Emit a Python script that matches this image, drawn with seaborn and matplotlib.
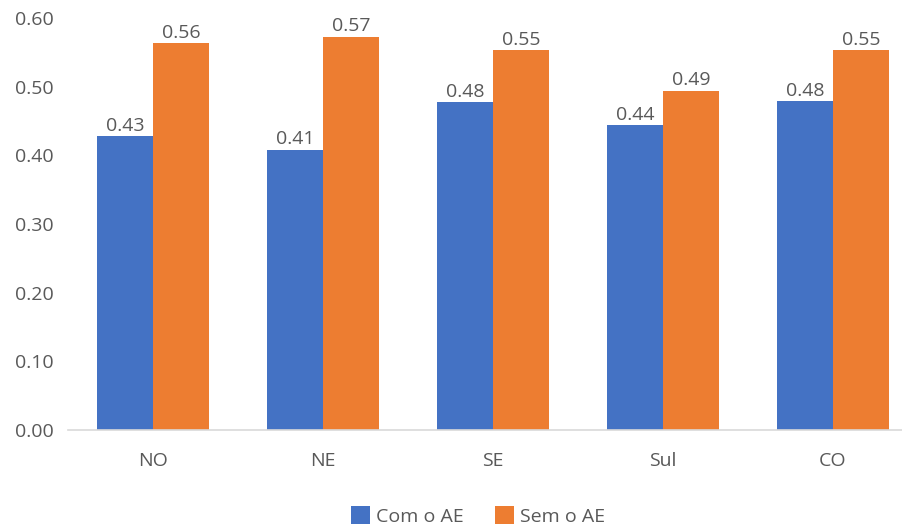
import matplotlib
matplotlib.use("Agg")
import matplotlib.pyplot as plt
import seaborn as sns
import pandas as pd

categories = ["NO", "NE", "SE", "Sul", "CO"]
com_ae = [0.428, 0.408, 0.477, 0.444, 0.479]
sem_ae = [0.563, 0.573, 0.553, 0.494, 0.553]
series_names = ["Com o AE", "Sem o AE"]
y_ticks = [0.0, 0.1, 0.2, 0.3, 0.4, 0.5, 0.6]

df = pd.DataFrame({
    "Região": categories * 2,
    "Valor": com_ae + sem_ae,
    "Série": [series_names[0]] * len(categories) + [series_names[1]] * len(categories),
})

sns.set_theme(style="white")
plt.rcParams["font.family"] = ["Open Sans", "DejaVu Sans"]
text_color = "#595959"
fs = 14

fig = plt.figure(figsize=(9.03, 5.32), dpi=100)
W, H = 903, 532
ax = fig.add_axes([68 / W, (H - 430) / H, 850 / W, 412 / H])

sns.barplot(data=df, x="Região", y="Valor", hue="Série", ax=ax,
            palette=["#4472C4", "#ED7D31"], width=0.66, gap=0,
            saturation=1, linewidth=0, errorbar=None, legend=True)

for cont in ax.containers:
    ax.bar_label(cont, fmt="%.2f", padding=1, fontsize=fs, color=text_color)

ax.set_ylim(0, 0.6)
ax.set_xlim(-0.5, 4.5)
ax.set_yticks(y_ticks)
ax.set_yticklabels([f"{v:.2f}" for v in y_ticks])
ax.set_xlabel("")
ax.set_ylabel("")
ax.tick_params(axis="y", length=0, pad=10, labelsize=fs, labelcolor=text_color)
ax.tick_params(axis="x", length=0, pad=16, labelsize=fs, labelcolor=text_color)
for s in ["top", "right", "left"]:
    ax.spines[s].set_visible(False)
ax.spines["bottom"].set_color("#D9D9D9")
ax.spines["bottom"].set_linewidth(1.2)
ax.grid(False)

handles, labels = ax.get_legend_handles_labels()
ax.get_legend().remove()
fig.legend(handles, labels, loc="center", bbox_to_anchor=(478 / W, 1 - 516 / H),
           ncol=2, frameon=False, fontsize=fs, labelcolor=text_color,
           handlelength=1.0, handleheight=1.0, handletextpad=0.3, columnspacing=1.6)

fig.savefig("out.png", dpi=100)
